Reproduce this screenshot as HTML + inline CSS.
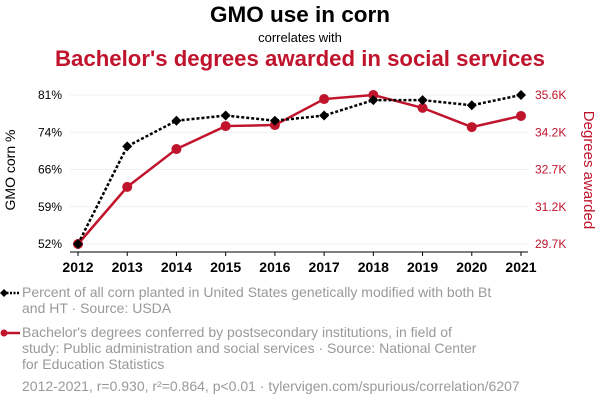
<!DOCTYPE html>
<html><head><meta charset="utf-8"><style>
body{margin:0;width:600px;height:408px;background:#fff;font-family:"Liberation Sans",sans-serif;overflow:hidden;position:relative}
.t{position:absolute;left:0;width:600px;text-align:center}
.leg{position:absolute;left:22px;font-size:14px;line-height:16px;color:#999}
</style></head><body>
<div class="t" style="top:2px;font-size:22.5px;font-weight:bold;color:#000">GMO use in corn</div>
<div class="t" style="top:30px;font-size:13px;color:#000">correlates with</div>
<div class="t" style="top:46px;font-size:22.2px;font-weight:bold;color:#c0142c">Bachelor's degrees awarded in social services</div>
<svg id="c" width="600" height="290" style="position:absolute;left:0;top:0"></svg>
<svg width="22" height="120" style="position:absolute;left:0;top:284px">
<line x1="3" y1="9" x2="20" y2="9" stroke="#000" stroke-width="2.5" stroke-dasharray="2,1.5"/><path d="M0 9L4 5L8 9L4 13Z" fill="#000"/>
<line x1="3" y1="49" x2="20" y2="49" stroke="#c0142c" stroke-width="2.5"/><circle cx="4" cy="49" r="3.5" fill="#c0142c"/>
</svg>
<div class="leg" style="top:284px">Percent of all corn planted in United States genetically modified with both Bt<br>and HT · Source: USDA</div>
<div class="leg" style="top:324px">Bachelor's degrees conferred by postsecondary institutions, in field of<br>study: Public administration and social services · Source: National Center<br>for Education Statistics</div>
<div class="leg" style="top:378px">2012-2021, r=0.930, r²=0.864, p&lt;0.01 · tylervigen.com/spurious/correlation/6207</div>
<script>
const years=[2012,2013,2014,2015,2016,2017,2018,2019,2020,2021];
const gmo=[52,71,76,77,76,77,80,80,79,81];
const degrees=[29700,31960,33460,34370,34410,35440,35600,35090,34330,34770];
const leftTicks=["52%","59%","66%","74%","81%"];
const rightTicks=["29.7K","31.2K","32.7K","34.2K","35.6K"];
const svg=document.getElementById('c');const NS='http://www.w3.org/2000/svg';
function mk(t,a,txt){const e=document.createElementNS(NS,t);for(const k in a)e.setAttribute(k,a[k]);if(txt!==undefined)e.textContent=txt;svg.appendChild(e);return e;}
const x=i=>78+i*(521-78)/(years.length-1);
const yL=v=>244-(v-52)/(81-52)*149;
const yR=v=>244-(v-29700)/(35600-29700)*149;
leftTicks.forEach((t,i)=>{const y=244-i*149/4;
const g=mk('line',{x1:70,x2:528,y1:y,y2:y,stroke:'#f0f0f0'});
const a=mk('text',{x:62,y:y+4,'text-anchor':'end','font-size':12,fill:'#000'},t);
const b=mk('text',{x:535,y:y+4,'font-size':12,fill:'#c0142c'},rightTicks[i]);});
const ax=mk('line',{x1:70,x2:528,y1:252,y2:252,stroke:'#000'});
years.forEach((yr,i)=>{const tk=mk('line',{x1:x(i),x2:x(i),y1:252,y2:256,stroke:'#000'});
const l=mk('text',{x:x(i),y:272,'text-anchor':'middle','font-size':14,'font-weight':'bold'},yr);});
const lt=mk('text',{transform:'translate(15,170) rotate(-90)','text-anchor':'middle','font-size':14},'GMO corn %');
const rt=mk('text',{transform:'translate(584,170) rotate(90)','text-anchor':'middle','font-size':15,fill:'#c0142c'},'Degrees awarded');
const rl=mk('polyline',{points:degrees.map((v,i)=>x(i)+','+yR(v)).join(' '),fill:'none',stroke:'#c0142c','stroke-width':2.5});
degrees.forEach((v,i)=>{const c=mk('circle',{cx:x(i),cy:yR(v),r:5,fill:'#c0142c'});});
const gl=mk('polyline',{points:gmo.map((v,i)=>x(i)+','+yL(v)).join(' '),fill:'none',stroke:'#000','stroke-width':2.5,'stroke-dasharray':'3,2'});
gmo.forEach((v,i)=>{const X=x(i),Y=yL(v);const p=mk('path',{d:`M${X-5} ${Y}L${X} ${Y-5}L${X+5} ${Y}L${X} ${Y+5}Z`,fill:'#000'});});
</script>
</body></html>
